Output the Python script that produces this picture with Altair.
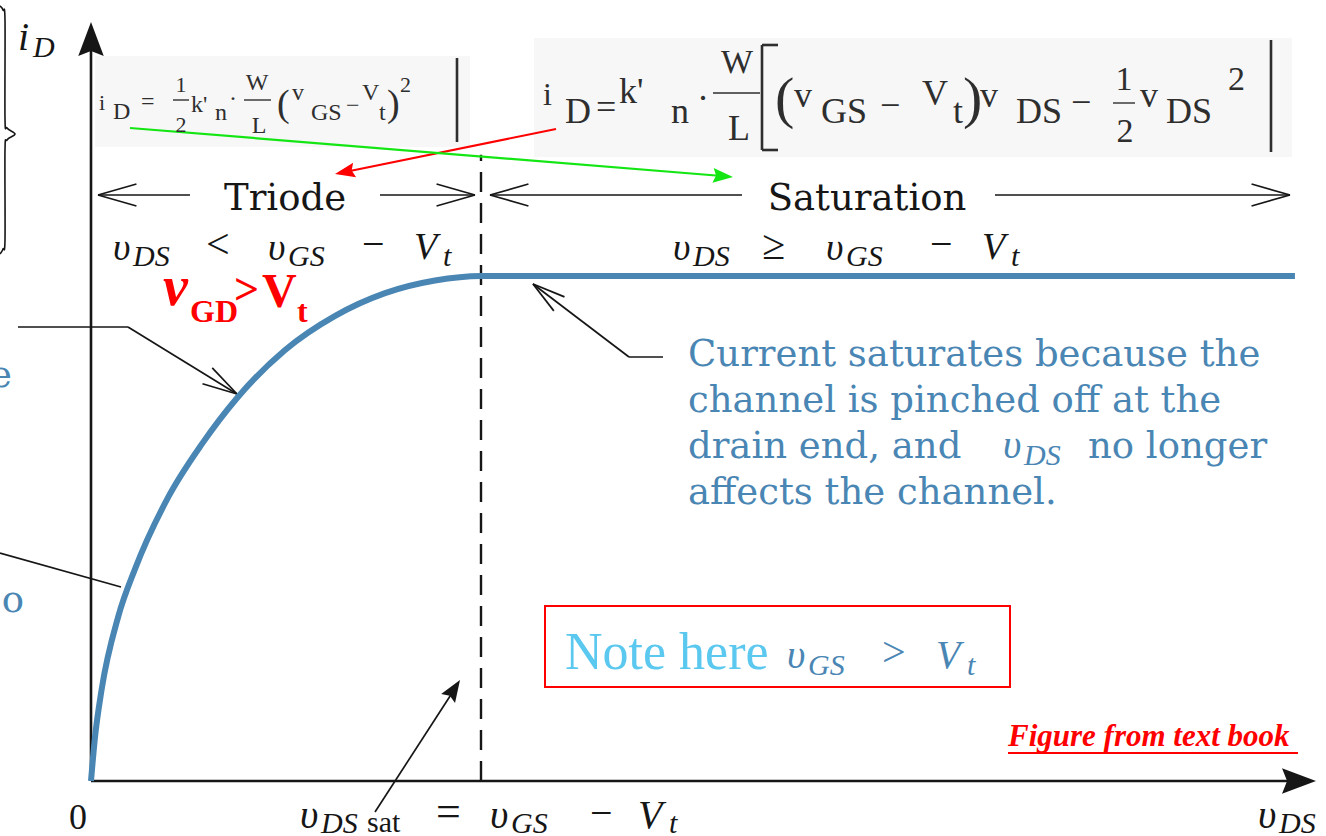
import math
import altair as alt
import pandas as pd

# ---------------------------------------------------------------
# MOSFET output characteristic, normalised:
#   v_ds in units of v_DSsat, i_d in units of the saturation current
# ---------------------------------------------------------------
v_ds = [0.0, 0.010, 0.027, 0.070, 0.113, 0.198, 0.285, 0.374, 0.497, 0.626, 0.754, 0.882, 1.0, 3.087]
i_d = [0.0, 0.085, 0.180, 0.326, 0.420, 0.562, 0.668, 0.758, 0.853, 0.921, 0.966, 0.991, 1.0, 1.0]
v_ds_sat = 1.0
boundary_top = 1.24  # height of the dashed triode/saturation boundary

# ---------------------------------------------------------------
# Canvas layout
# ---------------------------------------------------------------
W, H = 1326, 836
X0, Y0 = 91, 781      # origin of the axes on the canvas
SX, SY = 390, 505     # pixels per normalised unit


def ux(px):
    return (px - X0) / SX


def uy(py):
    return (Y0 - py) / SY


x_scale = alt.Scale(domain=[ux(0), ux(W)], nice=False, zero=False)
y_scale = alt.Scale(domain=[uy(H), uy(0)], nice=False, zero=False)

INK = "#161616"
EQ = "#2e2e2e"
BLUE = "#4a86b4"
CYAN = "#5bc8ef"
RED = "#ff0000"
GREEN = "#14e614"

FONTS = {
    "ti": ("Liberation Serif", "italic", "normal"),
    "tr": ("Liberation Serif", "normal", "normal"),
    "wide": ("DejaVu Serif", "normal", "normal"),
    "tbi": ("Liberation Serif", "italic", "bold"),
    "tb": ("Liberation Serif", "normal", "bold"),
}

# (text, x, baseline y, font size, colour, font key, align)
texts = [
    # i_D axis label
    ("i", 18, 50, 40, INK, "ti", "left"),
    ("D", 33, 57, 30, INK, "ti", "left"),
    # origin and v_DS axis labels
    ("0", 78, 829, 36, INK, "tr", "center"),
    ("υ", 300, 828, 40, INK, "ti", "left"),
    ("DS", 321, 833, 30, INK, "ti", "left"),
    ("sat", 367, 832, 30, INK, "tr", "left"),
    ("=", 436, 826, 44, INK, "tr", "left"),
    ("υ", 490, 828, 40, INK, "ti", "left"),
    ("GS", 511, 833, 30, INK, "ti", "left"),
    ("−", 590, 826, 40, INK, "tr", "left"),
    ("V", 638, 828, 40, INK, "ti", "left"),
    ("t", 669, 833, 30, INK, "ti", "left"),
    ("υ", 1258, 828, 40, INK, "ti", "left"),
    ("DS", 1279, 833, 30, INK, "ti", "left"),
    # region names
    ("Triode", 285, 210, 37, INK, "wide", "center"),
    ("Saturation", 867, 210, 37, INK, "wide", "center"),
    # triode condition
    ("υ", 113, 260, 38, INK, "ti", "left"),
    ("DS", 133, 266, 30, INK, "ti", "left"),
    ("<", 206, 258, 42, INK, "tr", "left"),
    ("υ", 268, 260, 38, INK, "ti", "left"),
    ("GS", 288, 266, 30, INK, "ti", "left"),
    ("−", 362, 257, 40, INK, "tr", "left"),
    ("V", 414, 259, 38, INK, "ti", "left"),
    ("t", 443, 266, 30, INK, "ti", "left"),
    # saturation condition
    ("υ", 673, 260, 38, INK, "ti", "left"),
    ("DS", 693, 266, 30, INK, "ti", "left"),
    ("≥", 762, 259, 42, INK, "tr", "left"),
    ("υ", 826, 260, 38, INK, "ti", "left"),
    ("GS", 846, 266, 30, INK, "ti", "left"),
    ("−", 930, 257, 40, INK, "tr", "left"),
    ("V", 982, 259, 38, INK, "ti", "left"),
    ("t", 1011, 266, 30, INK, "ti", "left"),
    # v_GD > V_t
    ("v", 163, 305, 56, RED, "tbi", "left"),
    ("GD", 190, 322, 32, RED, "tb", "left"),
    (">", 234, 304, 44, RED, "tb", "left"),
    ("V", 262, 307, 48, RED, "tb", "left"),
    ("t", 297, 322, 32, RED, "tb", "left"),
    # saturation explanation
    ("Current saturates because the", 688, 366, 37, BLUE, "wide", "left"),
    ("channel is pinched off at the", 688, 412, 37, BLUE, "wide", "left"),
    ("drain end, and", 688, 458, 37, BLUE, "wide", "left"),
    ("υ", 1003, 458, 40, BLUE, "ti", "left"),
    ("DS", 1024, 465, 30, BLUE, "ti", "left"),
    ("no longer", 1088, 458, 37, BLUE, "wide", "left"),
    ("affects the channel.", 688, 504, 37, BLUE, "wide", "left"),
    # clipped words at the left edge
    ("e", 12, 387, 37, BLUE, "wide", "right"),
    ("o", 24, 612, 37, BLUE, "wide", "right"),
    # note box text
    ("Note here", 565, 669, 52, CYAN, "tr", "left"),
    ("υ", 787, 668, 40, BLUE, "ti", "left"),
    ("GS", 808, 675, 30, BLUE, "ti", "left"),
    (">", 882, 666, 42, BLUE, "tr", "left"),
    ("V", 936, 668, 40, BLUE, "ti", "left"),
    ("t", 967, 675, 30, BLUE, "ti", "left"),
    # source note
    ("Figure from text book", 1008, 746, 31, RED, "tbi", "left"),
    # saturation-region equation
    ("i", 99, 110, 22, EQ, "tr", "left"),
    ("D", 113, 119, 24, EQ, "tr", "left"),
    ("=", 141, 109, 24, EQ, "tr", "left"),
    ("1", 181, 92, 22, EQ, "tr", "center"),
    ("2", 181, 132, 22, EQ, "tr", "center"),
    ("k'", 191, 112, 24, EQ, "tr", "left"),
    ("n", 215, 120, 24, EQ, "tr", "left"),
    ("·", 229, 106, 24, EQ, "tr", "left"),
    ("W", 257, 90, 24, EQ, "tr", "center"),
    ("L", 259, 133, 24, EQ, "tr", "center"),
    ("(", 277, 116, 38, EQ, "tr", "left"),
    ("v", 292, 100, 24, EQ, "tr", "left"),
    ("GS", 311, 120, 24, EQ, "tr", "left"),
    ("−", 346, 113, 24, EQ, "tr", "left"),
    ("V", 362, 100, 24, EQ, "tr", "left"),
    ("t", 379, 120, 24, EQ, "tr", "left"),
    (")", 387, 116, 38, EQ, "tr", "left"),
    ("2", 400, 92, 22, EQ, "tr", "left"),
    # triode-region equation
    ("i", 543, 105, 32, EQ, "tr", "left"),
    ("D", 565, 123, 36, EQ, "tr", "left"),
    ("=", 596, 119, 36, EQ, "tr", "left"),
    ("k'", 619, 103, 36, EQ, "tr", "left"),
    ("n", 671, 123, 36, EQ, "tr", "left"),
    ("·", 697, 110, 36, EQ, "tr", "left"),
    ("W", 737, 73, 34, EQ, "tr", "center"),
    ("L", 739, 140, 36, EQ, "tr", "center"),
    ("(", 775, 117, 58, EQ, "tr", "left"),
    ("v", 794, 107, 36, EQ, "tr", "left"),
    ("GS", 821, 123, 36, EQ, "tr", "left"),
    ("−", 880, 117, 36, EQ, "tr", "left"),
    ("V", 922, 105, 36, EQ, "tr", "left"),
    ("t", 953, 123, 36, EQ, "tr", "left"),
    (")", 963, 117, 58, EQ, "tr", "left"),
    ("v", 980, 107, 36, EQ, "tr", "left"),
    ("DS", 1016, 123, 36, EQ, "tr", "left"),
    ("−", 1071, 114, 36, EQ, "tr", "left"),
    ("1", 1124, 90, 34, EQ, "tr", "center"),
    ("2", 1125, 142, 34, EQ, "tr", "center"),
    ("v", 1140, 107, 36, EQ, "tr", "left"),
    ("DS", 1166, 123, 36, EQ, "tr", "left"),
    ("2", 1228, 90, 34, EQ, "tr", "left"),
]

# straight strokes: (x1, y1, x2, y2, style)
segments = [
    # axes
    (91, 781, 91, 50, "axis"),
    (91, 781, 1300, 781, "axis"),
    # region arrows
    (98, 195, 190, 195, "thin"),
    (380, 195, 475, 195, "thin"),
    (490, 195, 742, 195, "thin"),
    (995, 195, 1290, 195, "thin"),
    # call-out leaders
    (18, 327, 128, 327, "thin"),
    (128, 327, 237, 394, "thin"),
    (0, 553, 121, 587, "thin"),
    (663, 357, 629, 357, "thin"),
    (629, 357, 533, 284, "thin"),
    (375, 812, 454, 690, "thin"),
    # equation pointers
    (556, 129, 345, 172, "red"),
    (130, 128, 722, 176, "green"),
    # equation rules
    (457, 58, 457, 142, "eqbar"),
    (1271, 40, 1271, 152, "eqbar"),
    (762, 45, 762, 150, "eqbar"),
    (762, 45, 778, 45, "eqbar"),
    (762, 150, 778, 150, "eqbar"),
    (173, 100, 189, 100, "frac"),
    (244, 100, 271, 100, "frac"),
    (713, 93, 760, 93, "frac"),
    (1113, 103, 1135, 103, "frac"),
    # underline of the source note
    (1008, 753, 1298, 753, "under"),
]


def chevron(tx, ty, fx, fy, length, half_deg):
    dx, dy = fx - tx, fy - ty
    n = math.hypot(dx, dy)
    dx, dy = dx / n, dy / n
    out = []
    for s in (1, -1):
        a = math.radians(half_deg * s)
        rx = dx * math.cos(a) - dy * math.sin(a)
        ry = dx * math.sin(a) + dy * math.cos(a)
        out.append((tx, ty, tx + rx * length, ty + ry * length, "thin"))
    return out


segments += chevron(98, 195, 200, 195, 40, 16)
segments += chevron(475, 195, 370, 195, 40, 16)
segments += chevron(490, 195, 600, 195, 40, 16)
segments += chevron(1290, 195, 1180, 195, 40, 16)
segments += chevron(237, 394, 128, 327, 36, 15)
segments += chevron(533, 284, 629, 357, 34, 15)

SEG_STYLE = {
    "axis": (INK, 2.6),
    "thin": (INK, 1.7),
    "red": (RED, 2.0),
    "green": (GREEN, 2.2),
    "eqbar": (EQ, 2.6),
    "frac": (EQ, 1.4),
    "under": (RED, 2.2),
}

HEAD_PATH = "M0,-1L0.75,1L0,0.7L-0.75,1Z"


def head(tx, ty, fx, fy, length, color):
    dx, dy = tx - fx, ty - fy
    n = math.hypot(dx, dy)
    dx, dy = dx / n, dy / n
    cx, cy = tx - dx * length / 2, ty - dy * length / 2
    ang = math.degrees(math.atan2(dx, -dy)) % 360
    return {"x": ux(cx), "y": uy(cy), "a": ang, "s": length ** 2, "c": color}


heads = pd.DataFrame([
    head(91, 22, 91, 100, 34, INK),
    head(1316, 781, 1200, 781, 34, INK),
    head(335, 174, 556, 129, 20, RED),
    head(733, 177, 130, 128, 20, GREEN),
    head(460, 680, 375, 812, 22, INK),
])

# curly brace at the left edge
brace_pts = [(0, 6), (3, 10), (5, 20), (5, 118), (7, 128), (15, 134), (7, 140),
             (5, 150), (5, 240), (3, 249), (0, 254)]
brace = pd.DataFrame([{"x": ux(px), "y": uy(py), "k": k} for k, (px, py) in enumerate(brace_pts)])


def X(f="x"):
    return alt.X(f"{f}:Q", scale=x_scale, axis=None)


def Y(f="y"):
    return alt.Y(f"{f}:Q", scale=y_scale, axis=None)


layers = []

# light panels behind the equations
panels = pd.DataFrame([
    {"x": ux(95), "x2": ux(470), "y": uy(56), "y2": uy(147)},
    {"x": ux(534), "x2": ux(1292), "y": uy(38), "y2": uy(157)},
])
layers.append(alt.Chart(panels).mark_rect(color="#f7f7f7").encode(
    x=X(), x2="x2:Q", y=Y(), y2="y2:Q"))

# note box
box = pd.DataFrame([{"x": ux(545), "x2": ux(1010), "y": uy(606), "y2": uy(687)}])
layers.append(alt.Chart(box).mark_rect(fillOpacity=0, stroke=RED, strokeWidth=2).encode(
    x=X(), x2="x2:Q", y=Y(), y2="y2:Q"))

# triode / saturation boundary
boundary = pd.DataFrame([{"x": v_ds_sat, "y": 0.0, "y2": boundary_top}])
layers.append(alt.Chart(boundary).mark_rule(color=INK, strokeWidth=2.4, strokeDash=[20, 11]).encode(
    x=X(), y=Y(), y2="y2:Q"))

seg_df = pd.DataFrame([{"x": ux(a), "y": uy(b), "x2": ux(c), "y2": uy(d), "st": st}
                       for a, b, c, d, st in segments])
for st, (col, sw) in SEG_STYLE.items():
    sub = seg_df[seg_df.st == st]
    if sub.empty:
        continue
    layers.append(alt.Chart(sub).mark_rule(color=col, strokeWidth=sw, strokeCap="butt").encode(
        x=X(), y=Y(), x2="x2:Q", y2="y2:Q"))

layers.append(alt.Chart(brace).mark_line(color=INK, strokeWidth=1.6, interpolate="cardinal").encode(
    x=X(), y=Y(), order="k:Q"))

# the i_D - v_DS characteristic
curve = pd.DataFrame({"v": v_ds, "i": i_d, "k": list(range(len(v_ds)))})
layers.append(alt.Chart(curve).mark_line(color=BLUE, strokeWidth=6, interpolate="monotone").encode(
    x=X("v"), y=Y("i"), order="k:Q"))

layers.append(alt.Chart(heads).mark_point(shape=HEAD_PATH, filled=True, opacity=1, strokeWidth=0).encode(
    x=X(), y=Y(), angle=alt.Angle("a:Q", scale=None), size=alt.Size("s:Q", scale=None),
    color=alt.Color("c:N", scale=None)))

txt_df = pd.DataFrame([{"t": t, "x": ux(px), "y": uy(py), "s": s, "c": c, "f": f, "al": al}
                       for t, px, py, s, c, f, al in texts])
for (fkey, al), sub in txt_df.groupby(["f", "al"]):
    font, style, weight = FONTS[fkey]
    layers.append(alt.Chart(sub).mark_text(font=font, fontStyle=style, fontWeight=weight,
                                           align=al, baseline="alphabetic").encode(
        x=X(), y=Y(), text="t:N", size=alt.Size("s:Q", scale=None),
        color=alt.Color("c:N", scale=None)))

chart = alt.layer(*layers).properties(
    width=W, height=H, padding=0, autosize="none", background="white"
).configure_view(strokeWidth=0)

chart.save("out.html", embed_options={"renderer": "svg", "actions": False})
